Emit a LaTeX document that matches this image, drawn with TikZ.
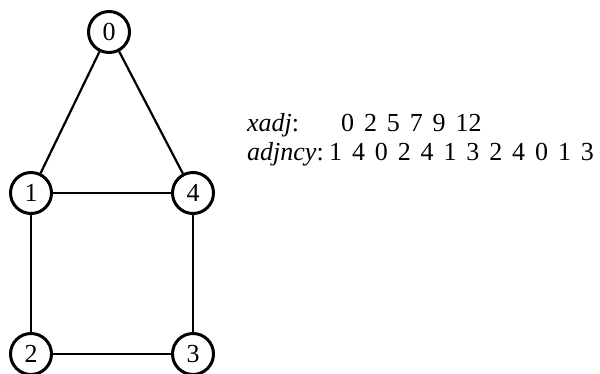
\documentclass[tikz,border=0pt]{standalone}
\usepackage{fontspec}
\setmainfont{Liberation Serif}
\newcommand\widespacing{\spaceskip=0.38em\relax}
\begin{document}
\begin{tikzpicture}[x=1pt,y=-1pt,
  vtx/.style={circle,draw,line width=3pt,minimum size=41pt,inner sep=0pt,font=\fontsize{26}{26}\selectfont},
  edge/.style={line width=2.2pt},
  lbl/.style={anchor=base west,inner sep=0pt,font=\fontsize{26}{26}\selectfont\widespacing}]
\useasboundingbox (0,0) rectangle (600,373);
\node[vtx] (n0) at (109,32) {0};
\node[vtx] (n1) at (31,193) {1};
\node[vtx] (n4) at (193,193) {4};
\node[vtx] (n2) at (31,354) {2};
\node[vtx] (n3) at (193,354) {3};
\draw[edge] (n0) -- (n1);
\draw[edge] (n0) -- (n4);
\draw[edge] (n1) -- (n4);
\draw[edge] (n1) -- (n2);
\draw[edge] (n4) -- (n3);
\draw[edge] (n2) -- (n3);
\node[lbl] (xa) at (247,131.5) {\textit{xadj}:};
\node[lbl] (xv) at (341,131.5) {0 2 5 7 9 12};
\node[lbl] (aa) at (247,160) {\textit{adjncy}:};
\node[lbl] (av) at (329,160) {1 4 0 2 4 1 3 2 4 0 1 3};
\end{tikzpicture}
\end{document}
